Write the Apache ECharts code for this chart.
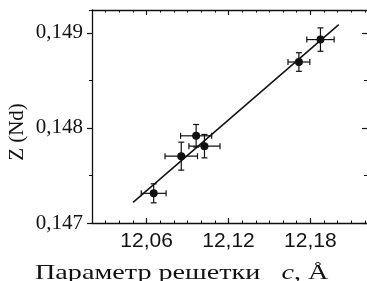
<!DOCTYPE html>
<html>
<head>
<meta charset="utf-8">
<script src="https://cdn.jsdelivr.net/npm/echarts@6/dist/echarts.min.js"></script>
<style>
  html, body { margin: 0; padding: 0; background: #fff; }
  #chart { width: 367px; height: 281px; }
</style>
</head>
<body>
<div id="chart"></div>
<script>
// measured points: lattice parameter c (A) vs Z(Nd)
var cValues = [12.0652, 12.0854, 12.0963, 12.1024, 12.1716, 12.1874];
var zValues = [0.147312, 0.147703, 0.147917, 0.147808, 0.148693, 0.148929];
var cErrors = [0.0091, 0.0119, 0.0114, 0.0114, 0.0080, 0.0100];
var zErrors = [0.000100, 0.000147, 0.000119, 0.000123, 0.000098, 0.000123];

// fitted straight line, end points
var fitC = [12.0501, 12.2008];
var fitZ = [0.147217, 0.149086];

var xLabels = [12.06, 12.12, 12.18];
var yLabels = [0.147, 0.148, 0.149];

var myChart = echarts.init(document.getElementById('chart'));

var X_MIN = 12.02, X_MAX = 12.2215;
var Y_MIN = 0.147, Y_MAX = 0.14924;
var black = '#111';

function fmtX(v) { return v.toFixed(2).replace('.', ','); }
function fmtY(v) { return v.toFixed(3).replace('.', ','); }

function xAxisDef(pos, major, show) {
  return {
    type: 'value', position: pos, min: X_MIN, max: X_MAX,
    interval: 0.01,
    splitLine: { show: false },
    axisLine: { show: show, lineStyle: { color: black, width: 1.3 } },
    axisTick: major
      ? { inside: true, length: 5, customValues: xLabels, lineStyle: { color: black, width: 1.2 } }
      : { inside: true, length: 2.5, lineStyle: { color: black, width: 1 } },
    axisLabel: (pos == 'bottom' && show) ? {
      customValues: xLabels,
      formatter: fmtX,
      margin: 8,
      color: black,
      fontFamily: 'Liberation Sans',
      fontSize: 21
    } : { show: false }
  };
}

function yAxisDef(pos, major, show) {
  var left = pos == 'left';
  return {
    type: 'value', position: pos, min: Y_MIN, max: Y_MAX,
    interval: 0.0005,
    splitLine: { show: false },
    axisLine: { show: show, lineStyle: { color: black, width: 1.3 } },
    axisTick: major
      ? { show: true, inside: !left, length: 5, customValues: yLabels, lineStyle: { color: black, width: 1.2 } }
      : { show: true, inside: !left, length: 3, lineStyle: { color: black, width: 1 } },
    axisLabel: (left && show) ? {
      customValues: yLabels,
      formatter: fmtY,
      margin: 9,
      color: black,
      fontFamily: 'Liberation Serif',
      fontSize: 21
    } : { show: false }
  };
}

var pointData = cValues.map(function (c, i) { return [c, zValues[i]]; });
var errData = cValues.map(function (c, i) { return [c, zValues[i], cErrors[i], zErrors[i]]; });

function renderErr(params, api) {
  var x = api.value(0), y = api.value(1), ex = api.value(2), ey = api.value(3);
  var l = api.coord([x - ex, y]), r = api.coord([x + ex, y]);
  var t = api.coord([x, y + ey]), b = api.coord([x, y - ey]);
  var cap = 3;
  var st = { stroke: black, lineWidth: 1.2 };
  function ln(x1, y1, x2, y2) {
    return { type: 'line', shape: { x1: x1, y1: y1, x2: x2, y2: y2 }, style: st };
  }
  return {
    type: 'group',
    children: [
      ln(l[0], l[1], r[0], r[1]),
      ln(l[0], l[1] - cap, l[0], l[1] + cap),
      ln(r[0], r[1] - cap, r[0], r[1] + cap),
      ln(t[0], t[1], b[0], b[1]),
      ln(t[0] - cap, t[1], t[0] + cap, t[1]),
      ln(b[0] - cap, b[1], b[0] + cap, b[1])
    ]
  };
}

var option = {
  animation: false,
  backgroundColor: '#fff',
  grid: { left: 92, top: 10, right: -2, bottom: 58 },
  xAxis: [
    xAxisDef('bottom', false, true),
    xAxisDef('bottom', true, false),
    xAxisDef('top', false, true),
    xAxisDef('top', true, false)
  ],
  yAxis: [
    yAxisDef('left', false, true),
    yAxisDef('left', true, false),
    yAxisDef('right', false, false),
    yAxisDef('right', true, false)
  ],
  graphic: [
    {
      type: 'text',
      x: 17, y: 132,
      rotation: Math.PI / 2,
      style: {
        text: 'Z (Nd)',
        fill: black,
        font: '21px "Liberation Serif"',
        align: 'center',
        verticalAlign: 'middle'
      }
    },
    {
      type: 'text',
      x: 35, y: 273,
      scaleX: 1.28,
      style: {
        text: '{a|Параметр решетки   }{i|c}{a|, Å}',
        fill: black,
        align: 'left',
        verticalAlign: 'middle',
        rich: {
          a: { fontFamily: 'Liberation Serif', fontSize: 22, fill: black },
          i: { fontFamily: 'Liberation Serif', fontStyle: 'italic', fontSize: 22, fill: black }
        }
      }
    }
  ],
  series: [
    {
      type: 'line',
      data: fitC.map(function (c, i) { return [c, fitZ[i]]; }),
      showSymbol: false,
      lineStyle: { color: black, width: 1.5 },
      z: 2
    },
    {
      type: 'custom',
      renderItem: renderErr,
      data: errData,
      z: 3
    },
    {
      type: 'scatter',
      data: pointData,
      symbol: 'circle',
      symbolSize: 8,
      itemStyle: { color: black, opacity: 1 },
      z: 4
    }
  ]
};

myChart.setOption(option);
</script>
</body>
</html>
